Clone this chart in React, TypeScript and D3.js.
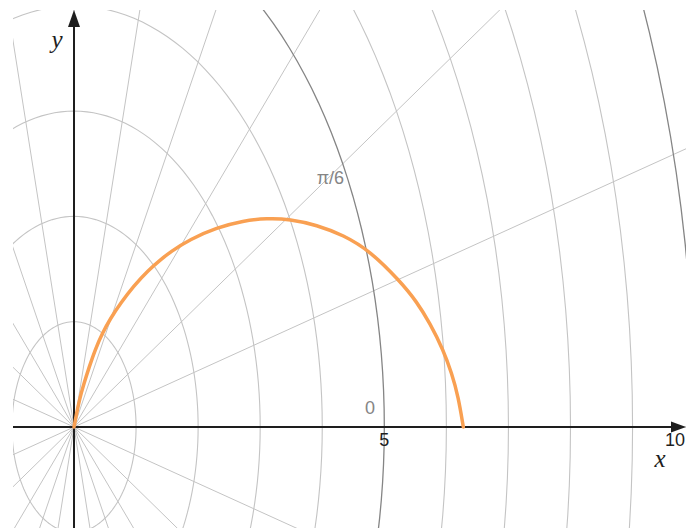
import * as d3 from "d3";

// viewport (data units)
const xWindow = [-0.983, 9.861];
const yWindow = [-0.959, 3.96];

const xTickValues = [5, 10];
const circleRadii = d3.range(1, 16);
const majorEvery = 5;
const rayCount = 24; // every pi/12
const angleLabels = [
  { text: "0", angle: 0 },
  { text: "π/6", angle: Math.PI / 6 },
];

// orange curve
const curveX = [0, 0.032, 0.085, 0.161, 0.247, 0.338, 0.456, 0.591, 0.757, 0.956, 1.197, 1.413, 1.547, 1.869, 2.299, 2.728, 3.105, 3.48, 3.911, 4.339, 4.77, 5.253, 5.522, 5.736, 5.951, 6.086, 6.192, 6.273];
const curveY = [0, 0.098, 0.256, 0.415, 0.573, 0.731, 0.89, 1.035, 1.18, 1.335, 1.49, 1.597, 1.661, 1.782, 1.893, 1.959, 1.982, 1.975, 1.918, 1.823, 1.672, 1.385, 1.19, 0.985, 0.731, 0.51, 0.288, 0];

const W = 686;
const H = 528;
const plot = { left: 13, top: 10, right: 686, bottom: 528 };

export default function App() {
  const x = d3.scaleLinear().domain(xWindow).range([plot.left, plot.right]);
  const y = d3.scaleLinear().domain(yWindow).range([plot.bottom, plot.top]);

  const circlePath = (r: number) => {
    const pts = d3.range(0, 361, 2).map((deg) => {
      const a = (deg * Math.PI) / 180;
      return [x(r * Math.cos(a)), y(r * Math.sin(a))] as [number, number];
    });
    return d3.line()(pts) as string;
  };

  const curve = d3
    .line<number>()
    .x((i) => x(curveX[i]))
    .y((i) => y(curveY[i]))
    .curve(d3.curveBasis);

  const x0 = x(0);
  const y0 = y(0);
  const sans = "'Liberation Sans', Arial, sans-serif";
  const serif = "'Liberation Serif', 'Times New Roman', serif";

  return (
    <svg
      width={W}
      height={H}
      style={{ position: "absolute", left: 0, top: 0, background: "#fff" }}
    >
      <defs>
        <clipPath id="plot">
          <rect x={plot.left} y={plot.top} width={plot.right - plot.left} height={plot.bottom - plot.top} />
        </clipPath>
      </defs>
      <g clipPath="url(#plot)">
        {d3.range(rayCount).map((k) => {
          const a = (k * 2 * Math.PI) / rayCount;
          return (
            <line
              key={"ray" + k}
              x1={x0}
              y1={y0}
              x2={x(20 * Math.cos(a))}
              y2={y(20 * Math.sin(a))}
              stroke="#c4c4c4"
              strokeWidth={1}
            />
          );
        })}
        {circleRadii.map((r) => (
          <path
            key={"c" + r}
            d={circlePath(r)}
            fill="none"
            stroke={r % majorEvery === 0 ? "#858585" : "#c4c4c4"}
            strokeWidth={r % majorEvery === 0 ? 1.3 : 1.1}
          />
        ))}
        {angleLabels.map((l) => {
          const r = 4.77;
          return (
            <text
              key={l.text}
              x={x(r * Math.cos(l.angle))}
              y={y(r * Math.sin(l.angle)) - 13 + 42 * Math.sin(l.angle)}
              textAnchor="middle"
              fontFamily={sans}
              fontSize={18}
              fill="#858585"
            >
              {l.text}
            </text>
          );
        })}

        {/* axes */}
        <line x1={plot.left} x2={plot.right - 12} y1={y0} y2={y0} stroke="#1e1e1e" strokeWidth={2} />
        <line x1={x0} x2={x0} y1={plot.bottom} y2={plot.top + 14} stroke="#1e1e1e" strokeWidth={2} />
        <path d={`M${plot.right},${y0} L${plot.right - 15},${y0 - 5.5} L${plot.right - 15},${y0 + 5.5} Z`} fill="#1e1e1e" />
        <path d={`M${x0},${plot.top} L${x0 - 6},${plot.top + 17} L${x0 + 6},${plot.top + 17} Z`} fill="#1e1e1e" />

        <path
          d={curve(d3.range(curveX.length)) as string}
          fill="none"
          stroke="#f9a052"
          strokeWidth={3.5}
          strokeLinecap="round"
          strokeLinejoin="round"
        />

        {xTickValues.map((v) => (
          <text
            key={"t" + v}
            x={Math.min(x(v), plot.right - 11)}
            y={y0 + 19}
            textAnchor="middle"
            fontFamily={sans}
            fontSize={18}
            fill="#1e1e1e"
          >
            {v}
          </text>
        ))}
      </g>
      <text x={660} y={467} textAnchor="middle" fontFamily={serif} fontStyle="italic" fontSize={25} fill="#1e1e1e">
        x
      </text>
      <text x={57} y={48} textAnchor="middle" fontFamily={serif} fontStyle="italic" fontSize={25} fill="#1e1e1e">
        y
      </text>
    </svg>
  );
}
